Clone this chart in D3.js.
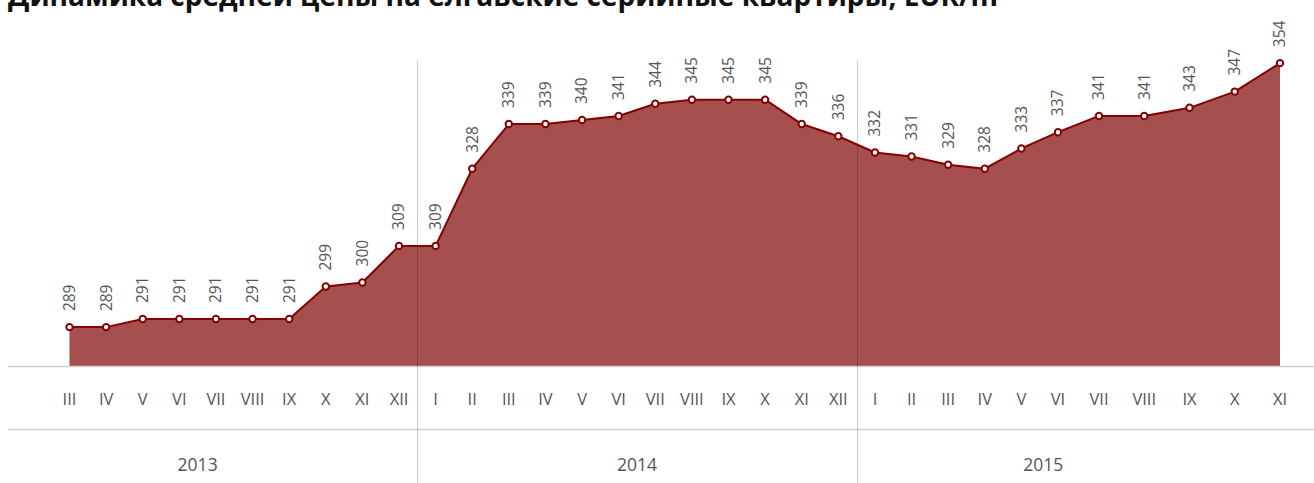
<!DOCTYPE html>
<html>
<head>
<meta charset="utf-8">
<script src="https://cdn.jsdelivr.net/npm/d3@7"></script>
<style>
  html, body { margin: 0; padding: 0; background: #fff; }
  svg { display: block; font-family: "Open Sans", sans-serif; }
</style>
</head>
<body>
<svg id="chart" width="1314" height="483"></svg>
<script>
// ---- data ----
const title = "Динамика средней цены на елгавские серийные квартиры, EUR/m²";
const months = ["III","IV","V","VI","VII","VIII","IX","X","XI","XII",
                "I","II","III","IV","V","VI","VII","VIII","IX","X","XI","XII",
                "I","II","III","IV","V","VI","VII","VIII","IX","X","XI"];
const values = [289,289,291,291,291,291,291,299,300,309,
                309,328,339,339,340,341,344,345,345,345,339,336,
                332,331,329,328,333,337,341,341,343,347,354];
const years = ["2013","2014","2015"];
const yearStart = [0, 10, 22];      // index of first month of each year
const yearCenter = [3.5, 15.5, 26.6]; // label centre, in month-index units

// ---- layout ----
const W = 1314, H = 483;
const axisY = 366.5, yearLineY = 429.5, leftX = 8;
const svg = d3.select("#chart");

const x = d3.scaleLinear().domain([0, 27, 28, 32]).range([69.5, 1058, 1099, 1280]);
const y = d3.scaleLinear().domain([279.3, 345]).range([axisY, 99.7]);

// title (clipped at the top as in the reference)
svg.append("text")
  .attr("x", 8).attr("y", 6)
  .attr("font-size", 28).attr("font-weight", 700)
  .attr("fill", "#111")
  .text(title);

const idx = values.map((v, i) => i);

// area
const area = d3.area().x(i => x(i)).y0(axisY).y1(i => y(values[i]));
svg.append("path").datum(idx).attr("d", area).attr("fill", "#a54f4f");

// horizontal rules
svg.append("line").attr("x1", leftX).attr("x2", W).attr("y1", axisY).attr("y2", axisY)
  .attr("stroke", "#d0d0d0").attr("stroke-width", 1.5);
svg.append("line").attr("x1", leftX).attr("x2", W).attr("y1", yearLineY).attr("y2", yearLineY)
  .attr("stroke", "#d0d0d0").attr("stroke-width", 1.5);

// year separators
yearStart.slice(1).forEach(s => {
  const sx = Math.round((x(s - 1) + x(s)) / 2) + 0.5;
  svg.append("line").attr("x1", sx).attr("x2", sx).attr("y1", 60).attr("y2", H)
    .attr("stroke", "rgba(0,0,0,0.2)").attr("stroke-width", 1);
});

// line
const line = d3.line().x(i => x(i)).y(i => y(values[i]));
svg.append("path").datum(idx).attr("d", line)
  .attr("fill", "none").attr("stroke", "#850000").attr("stroke-width", 2)
  .attr("stroke-linejoin", "round");

// points
svg.append("g").selectAll("circle").data(idx).join("circle")
  .attr("cx", i => x(i)).attr("cy", i => y(values[i])).attr("r", 3.2)
  .attr("fill", "#fff").attr("stroke", "#850000").attr("stroke-width", 2);

// value labels (rotated)
svg.append("g").selectAll("text").data(idx).join("text")
  .attr("transform", i => `translate(${x(i)},${y(values[i]) - 16}) rotate(-90)`)
  .attr("dy", "0.35em")
  .attr("font-size", 15.5).attr("fill", "#555")
  .text(i => values[i]);

// month labels
svg.append("g").selectAll("text").data(idx).join("text")
  .attr("x", i => x(i)).attr("y", 399.5)
  .attr("dy", "0.35em").attr("text-anchor", "middle")
  .attr("font-size", 16.5).attr("fill", "#555")
  .text(i => months[i]);

// year labels
svg.append("g").selectAll("text").data(years).join("text")
  .attr("x", (d, j) => x(yearCenter[j])).attr("y", 465)
  .attr("dy", "0.35em").attr("text-anchor", "middle")
  .attr("font-size", 17.5).attr("fill", "#555")
  .text(d => d);
</script>
</body>
</html>
